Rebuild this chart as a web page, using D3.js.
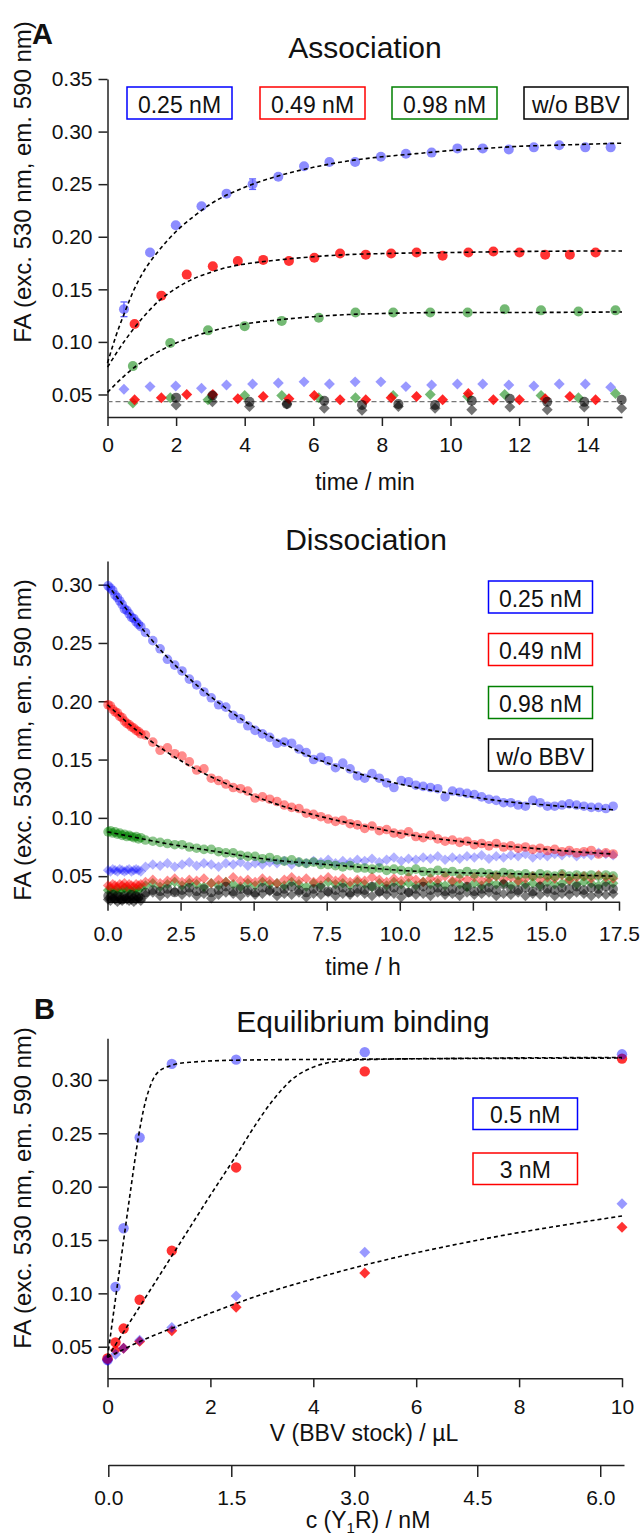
<!DOCTYPE html>
<html>
<head>
<meta charset="utf-8">
<script src="https://cdn.jsdelivr.net/npm/d3@7"></script>
<style>
  body { margin: 0; background: #fff; }
  svg { display: block; }
</style>
</head>
<body>
<svg id="chart" width="644" height="1535"></svg>
<script>
// ---------- A: association (time in min) ----------
const assocBlueT = [0.48, 1.24, 1.99, 2.74, 3.47, 4.23, 4.98, 5.73, 6.47, 7.22, 7.97, 8.70, 9.45, 10.20, 10.94, 11.70, 12.43, 13.17, 13.93, 14.67];
const assocBlue = [0.131, 0.185, 0.211, 0.229, 0.241, 0.250, 0.257, 0.267, 0.271, 0.271, 0.276, 0.279, 0.280, 0.284, 0.284, 0.283, 0.285, 0.287, 0.285, 0.285];
const assocBlueDia = [0.055, 0.0575, 0.058, 0.056, 0.059, 0.060, 0.061, 0.062, 0.060, 0.062, 0.062, 0.0575, 0.059, 0.060, 0.060, 0.059, 0.058, 0.060, 0.060, 0.057];
const assocRedT = [0.79, 1.57, 2.31, 3.07, 3.80, 4.54, 5.29, 6.03, 6.78, 7.53, 8.27, 9.01, 9.77, 10.52, 11.25, 12.01, 12.76, 13.48, 14.23];
const assocRed = [0.117, 0.144, 0.164, 0.172, 0.177, 0.178, 0.177, 0.180, 0.184, 0.183, 0.184, 0.185, 0.182, 0.185, 0.186, 0.185, 0.183, 0.183, 0.185];
const assocRedDia = [0.045, 0.047, 0.050, 0.050, 0.046, 0.048, 0.046, 0.049, 0.045, 0.045, 0.047, 0.048, 0.045, 0.051, 0.045, 0.045, 0.046, 0.048, 0.045];
const assocGreenT = [0.74, 1.83, 2.93, 4.00, 5.08, 6.16, 7.23, 8.33, 9.41, 10.50, 11.58, 12.64, 13.73, 14.81];
const assocGreen = [0.077, 0.099, 0.111, 0.115, 0.120, 0.123, 0.128, 0.128, 0.128, 0.128, 0.131, 0.130, 0.129, 0.130];
const assocGreenDia = [0.042, 0.047, 0.045, 0.049, 0.049, 0.047, 0.047, 0.049, 0.050, 0.048, 0.050, 0.049, 0.047, 0.051];
const assocBlackT = [2.00, 3.06, 4.14, 5.23, 6.32, 7.42, 8.48, 9.55, 10.62, 11.73, 12.82, 13.90, 14.99];
const assocBlack = [0.047, 0.049, 0.043, 0.041, 0.044, 0.040, 0.041, 0.040, 0.044, 0.046, 0.043, 0.043, 0.045];
const assocBlackDia = [0.040, 0.043, 0.0385, 0.041, 0.037, 0.035, 0.0385, 0.037, 0.0355, 0.038, 0.0355, 0.038, 0.037];
const assocErrT = [0.48, 4.23];
const assocErrV = [0.131, 0.250];
const assocErr = [0.007, 0.005];
const assocBaseline = 0.0433;
const assocFitBlue = [[0, 0.080], [0.25, 0.106], [0.5, 0.128], [0.75, 0.148], [1, 0.164], [1.5, 0.187], [2, 0.205], [2.5, 0.219], [3, 0.231], [4, 0.247], [5, 0.258], [6, 0.266], [7, 0.272], [8, 0.276], [9, 0.279], [10, 0.282], [11, 0.284], [12, 0.286], [13, 0.287], [14, 0.288], [15, 0.289]];
const assocFitRed = [[0, 0.076], [0.5, 0.101], [1, 0.122], [1.5, 0.139], [2, 0.151], [2.5, 0.160], [3, 0.166], [3.5, 0.171], [4, 0.174], [5, 0.178], [6, 0.181], [7, 0.183], [8, 0.184], [10, 0.185], [12, 0.186], [15, 0.1865]];
const assocFitGreen = [[0, 0.052], [0.5, 0.068], [1, 0.081], [1.5, 0.091], [2, 0.099], [2.5, 0.105], [3, 0.110], [4, 0.117], [5, 0.121], [6, 0.124], [7, 0.126], [8, 0.127], [10, 0.128], [12, 0.128], [15, 0.1285]];
const assocXTicks = [0, 2, 4, 6, 8, 10, 12, 14];
const assocYTicks = [0.05, 0.10, 0.15, 0.20, 0.25, 0.30, 0.35];

// ---------- dissociation (time in h) ----------
const disT = [
  0.02, 0.10, 0.18, 0.26, 0.34, 0.42, 0.50, 0.58, 0.66, 0.74, 0.82, 0.90, 0.98, 1.06, 1.14,
  1.30, 1.55, 1.80, 2.05, 2.30, 2.55, 2.80, 3.05, 3.30, 3.55,
  3.80, 4.05, 4.30, 4.55, 4.80, 5.05, 5.30, 5.55, 5.80, 6.05,
  6.30, 6.55, 6.80, 7.05, 7.30, 7.55, 7.80, 8.05, 8.30, 8.55,
  8.80, 9.05, 9.30, 9.55, 9.80, 10.05, 10.30, 10.55, 10.80, 11.05,
  11.30, 11.55, 11.80, 12.05, 12.30, 12.55, 12.80, 13.05, 13.30, 13.55,
  13.80, 14.05, 14.30, 14.55, 14.80, 15.05, 15.30, 15.55, 15.80, 16.05,
  16.30, 16.55, 16.80, 17.05, 17.30
];
const disBlue = [
  0.299, 0.297, 0.295, 0.291, 0.289, 0.286, 0.283, 0.279, 0.278, 0.275, 0.272, 0.271, 0.268, 0.266, 0.264,
  0.259, 0.252, 0.245, 0.236, 0.231, 0.226, 0.219, 0.214, 0.208, 0.203,
  0.197, 0.195, 0.188, 0.185, 0.179, 0.175, 0.172, 0.169, 0.164, 0.165,
  0.164, 0.159, 0.156, 0.150, 0.152, 0.149, 0.143, 0.147, 0.142, 0.136,
  0.134, 0.138, 0.134, 0.130, 0.126, 0.132, 0.131, 0.128, 0.127, 0.126,
  0.125, 0.118, 0.123, 0.122, 0.121, 0.120, 0.118, 0.116, 0.115, 0.113,
  0.113, 0.111, 0.110, 0.115, 0.113, 0.110, 0.110, 0.111, 0.112, 0.111,
  0.110, 0.109, 0.109, 0.108, 0.110
];
const disRed = [
  0.197, 0.196, 0.193, 0.191, 0.190, 0.187, 0.186, 0.183, 0.181, 0.180, 0.178, 0.177, 0.175, 0.174, 0.172,
  0.171, 0.165, 0.158, 0.160, 0.155, 0.153, 0.148, 0.141, 0.142, 0.134,
  0.132, 0.129, 0.126, 0.125, 0.123, 0.117, 0.118, 0.116, 0.114, 0.111,
  0.109, 0.108, 0.104, 0.103, 0.101, 0.099, 0.097, 0.098, 0.095, 0.094,
  0.091, 0.093, 0.089, 0.090, 0.087, 0.086, 0.088, 0.084, 0.083, 0.085,
  0.082, 0.080, 0.081, 0.079, 0.080, 0.077, 0.078, 0.076, 0.078, 0.075,
  0.076, 0.074, 0.075, 0.073, 0.074, 0.072, 0.073, 0.071, 0.072, 0.070,
  0.071, 0.072, 0.069, 0.070, 0.069
];
const disGreen = [
  0.088, 0.089, 0.087, 0.088, 0.086, 0.087, 0.085, 0.086, 0.084, 0.085, 0.084, 0.083, 0.084, 0.082, 0.083,
  0.081, 0.080, 0.079, 0.078, 0.077, 0.077, 0.075, 0.074, 0.073, 0.073,
  0.071, 0.070, 0.070, 0.068, 0.067, 0.067, 0.065, 0.066, 0.064, 0.063,
  0.064, 0.062, 0.061, 0.062, 0.060, 0.060, 0.059, 0.058, 0.059, 0.057,
  0.057, 0.056, 0.057, 0.055, 0.056, 0.055, 0.054, 0.056, 0.054, 0.053,
  0.055, 0.053, 0.054, 0.052, 0.054, 0.052, 0.053, 0.052, 0.051, 0.053,
  0.052, 0.051, 0.052, 0.050, 0.052, 0.051, 0.050, 0.052, 0.050, 0.051,
  0.050, 0.051, 0.050, 0.051, 0.050
];
const disBlack = [
  0.033, 0.032, 0.034, 0.031, 0.033, 0.032, 0.030, 0.033, 0.031, 0.032, 0.034, 0.031, 0.033, 0.032, 0.031,
  0.036, 0.038, 0.037, 0.039, 0.036, 0.038, 0.040, 0.037, 0.039, 0.036,
  0.038, 0.041, 0.037, 0.039, 0.038, 0.036, 0.040, 0.038, 0.037, 0.039,
  0.041, 0.038, 0.036, 0.039, 0.040, 0.037, 0.038, 0.040, 0.036, 0.039,
  0.038, 0.041, 0.037, 0.039, 0.040, 0.038, 0.036, 0.039, 0.041, 0.038,
  0.040, 0.037, 0.039, 0.038, 0.041, 0.037, 0.039, 0.040, 0.038, 0.043,
  0.039, 0.038, 0.040, 0.037, 0.041, 0.039, 0.038, 0.040, 0.039, 0.041,
  0.038, 0.040, 0.039, 0.041, 0.039
];
const disBlueDia = [
  0.055, 0.054, 0.056, 0.055, 0.054, 0.056, 0.055, 0.054, 0.055, 0.056, 0.054, 0.055, 0.056, 0.055, 0.054,
  0.058, 0.060, 0.059, 0.061, 0.058, 0.060, 0.062, 0.059, 0.061, 0.060,
  0.058, 0.061, 0.060, 0.062, 0.059, 0.061, 0.060, 0.062, 0.061, 0.063,
  0.060, 0.062, 0.061, 0.063, 0.062, 0.064, 0.061, 0.063, 0.062, 0.064,
  0.063, 0.065, 0.062, 0.064, 0.066, 0.063, 0.065, 0.064, 0.066, 0.065,
  0.067, 0.064, 0.066, 0.065, 0.067, 0.066, 0.068, 0.065, 0.067, 0.066,
  0.068, 0.067, 0.069, 0.066, 0.068, 0.067, 0.069, 0.068, 0.070, 0.067,
  0.069, 0.068, 0.070, 0.069, 0.068
];
const disRedDia = [
  0.042, 0.041, 0.043, 0.042, 0.041, 0.043, 0.042, 0.044, 0.041, 0.043, 0.042, 0.041, 0.043, 0.042, 0.043,
  0.045, 0.047, 0.044, 0.046, 0.048, 0.045, 0.047, 0.046, 0.048, 0.044,
  0.047, 0.045, 0.049, 0.046, 0.047, 0.045, 0.048, 0.046, 0.044, 0.047,
  0.049, 0.046, 0.048, 0.045, 0.047, 0.049, 0.046, 0.048, 0.045, 0.047,
  0.046, 0.049, 0.047, 0.045, 0.048, 0.046, 0.049, 0.047, 0.045, 0.048,
  0.047, 0.050, 0.046, 0.048, 0.047, 0.049, 0.046, 0.048, 0.050, 0.047,
  0.049, 0.046, 0.048, 0.050, 0.047, 0.049, 0.048, 0.051, 0.047, 0.049,
  0.050, 0.048, 0.051, 0.049, 0.048
];
const disGreenDia = [
  0.038, 0.039, 0.037, 0.038, 0.039, 0.037, 0.038, 0.040, 0.038, 0.039, 0.037, 0.038, 0.039, 0.038, 0.040,
  0.042, 0.044, 0.041, 0.043, 0.045, 0.042, 0.044, 0.043, 0.041, 0.044,
  0.042, 0.045, 0.043, 0.041, 0.044, 0.042, 0.045, 0.043, 0.044, 0.042,
  0.045, 0.043, 0.041, 0.044, 0.042, 0.045, 0.043, 0.044, 0.042, 0.045,
  0.043, 0.041, 0.044, 0.042, 0.045, 0.043, 0.044, 0.042, 0.045, 0.043,
  0.044, 0.042, 0.045, 0.043, 0.041, 0.044, 0.042, 0.045, 0.043, 0.044,
  0.042, 0.045, 0.043, 0.044, 0.042, 0.045, 0.043, 0.044, 0.046, 0.043,
  0.045, 0.044, 0.042, 0.045, 0.044
];
const disBlackDia = [
  0.030, 0.029, 0.031, 0.030, 0.028, 0.030, 0.029, 0.031, 0.030, 0.029, 0.030, 0.028, 0.030, 0.031, 0.029,
  0.034, 0.036, 0.033, 0.035, 0.037, 0.034, 0.036, 0.033, 0.035, 0.031,
  0.034, 0.036, 0.035, 0.033, 0.036, 0.034, 0.035, 0.037, 0.033, 0.035,
  0.034, 0.036, 0.032, 0.035, 0.034, 0.036, 0.033, 0.035, 0.034, 0.036,
  0.035, 0.033, 0.036, 0.034, 0.035, 0.032, 0.036, 0.034, 0.035, 0.033,
  0.036, 0.034, 0.035, 0.033, 0.036, 0.034, 0.035, 0.036, 0.033, 0.035,
  0.034, 0.036, 0.033, 0.035, 0.034, 0.036, 0.033, 0.035, 0.034, 0.036,
  0.035, 0.033, 0.035, 0.034, 0.035
];
const disFitBlue = [[0, 0.300], [1, 0.268], [2, 0.239], [3, 0.215], [4, 0.195], [5, 0.178], [6, 0.164], [7, 0.152], [8, 0.143], [9, 0.135], [10, 0.129], [11, 0.124], [12, 0.120], [13, 0.116], [14, 0.113], [15, 0.111], [16, 0.109], [17.3, 0.107]];
const disFitRed = [[0, 0.197], [1, 0.175], [2, 0.157], [3, 0.142], [4, 0.130], [5, 0.119], [6, 0.110], [7, 0.103], [8, 0.097], [9, 0.092], [10, 0.087], [11, 0.083], [12, 0.080], [13, 0.077], [14, 0.075], [15, 0.073], [16, 0.071], [17.3, 0.069]];
const disFitGreen = [[0, 0.088], [1, 0.083], [2, 0.078], [3, 0.074], [4, 0.070], [5, 0.066], [6, 0.063], [7, 0.061], [8, 0.059], [9, 0.057], [10, 0.055], [12, 0.053], [14, 0.052], [17.3, 0.050]];
const disXTicks = [0, 2.5, 5, 7.5, 10, 12.5, 15, 17.5];
const disYTicks = [0.05, 0.10, 0.15, 0.20, 0.25, 0.30];

// ---------- B: equilibrium binding ----------
const eqVol = [0, 0.156, 0.3125, 0.625, 1.25, 2.5, 5, 10];
const eqBlue = [0.0375, 0.106, 0.161, 0.246, 0.315, 0.319, 0.326, 0.324];
const eqRed = [0.039, 0.054, 0.067, 0.094, 0.140, 0.218, 0.308, 0.320];
const eqBlueDia = [0.037, 0.043, 0.0485, 0.056, 0.068, 0.0975, 0.1385, 0.184];
const eqRedDia = [0.038, 0.047, 0.0485, 0.055, 0.065, 0.087, 0.119, 0.162];
const eqFitBlue = [[0, 0.040], [0.15, 0.093], [0.3, 0.145], [0.45, 0.197], [0.56, 0.234], [0.65, 0.260], [0.75, 0.282], [0.83, 0.294], [0.9, 0.302], [1.0, 0.308], [1.15, 0.312], [1.3, 0.3145], [1.6, 0.3165], [2.5, 0.3185], [5, 0.3195], [10, 0.3205]];
const eqFitRed = [[0, 0.040], [0.5, 0.078], [1, 0.116], [1.5, 0.154], [2, 0.192], [2.5, 0.229], [2.85, 0.256], [3.2, 0.280], [3.6, 0.301], [4, 0.312], [4.4, 0.317], [5, 0.319], [7, 0.3203], [10, 0.321]];
const eqFitDia = [[0, 0.040], [0.25, 0.046], [0.5, 0.052], [1, 0.0625], [1.5, 0.072], [2, 0.0815], [2.5, 0.0905], [3, 0.099], [4, 0.1135], [5, 0.1265], [6, 0.138], [7, 0.148], [8, 0.157], [9, 0.165], [10, 0.1725]];
const eqXTicks = [0, 2, 4, 6, 8, 10];
const eqCTicks = [0, 1.5, 3.0, 4.5, 6.0];
const eqYTicks = [0.05, 0.10, 0.15, 0.20, 0.25, 0.30];

const conc4 = ["0.25 nM", "0.49 nM", "0.98 nM", "w/o BBV"];
const conc2 = ["0.5 nM", "3 nM"];

const FONT = "'Liberation Sans', Arial, Helvetica, sans-serif";
const BLUE = "#0000ff", RED = "#ff0000", GREEN = "#008000", BLACK = "#000000";
const yTitle = "FA (exc. 530 nm, em. 590 nm)";

const svg = d3.select("#chart").attr("font-family", FONT);

function styleAxis(g) {
  g.attr("font-size", 21).attr("font-family", FONT);
  g.selectAll("path, line").attr("stroke", "#222").attr("stroke-width", 1.5);
  g.selectAll("text").attr("fill", "#111");
}

function drawAxes(x, y, xTicks, yTicks, xFormat, xPad) {
  svg.append("g")
    .attr("transform", `translate(${x.range()[0]},0)`)
    .call(d3.axisLeft(y).tickValues(yTicks).tickFormat(d3.format(".2f")).tickSize(9).tickPadding(6).tickSizeOuter(0))
    .call(styleAxis);
  svg.append("g")
    .attr("transform", `translate(0,${y.range()[0]})`)
    .call(d3.axisBottom(x).tickValues(xTicks).tickFormat(xFormat).tickSize(9).tickPadding(xPad).tickSizeOuter(0))
    .call(styleAxis);
}

function circles(x, y, ts, vs, color, op, r) {
  svg.append("g")
    .selectAll("circle")
    .data(ts.map((t, i) => [t, vs[i]]))
    .join("circle")
    .attr("cx", d => x(d[0]))
    .attr("cy", d => y(d[1]))
    .attr("r", r)
    .attr("fill", color)
    .attr("fill-opacity", op);
}

function diamonds(x, y, ts, vs, color, op, size) {
  const sym = d3.symbol().type(d3.symbolSquare).size(size);
  svg.append("g")
    .selectAll("path")
    .data(ts.map((t, i) => [t, vs[i]]))
    .join("path")
    .attr("d", sym)
    .attr("transform", d => `translate(${x(d[0])},${y(d[1])}) rotate(45)`)
    .attr("fill", color)
    .attr("fill-opacity", op);
}

function fitLine(x, y, pts) {
  const line = d3.line().x(d => x(d[0])).y(d => y(d[1])).curve(d3.curveMonotoneX);
  svg.append("path")
    .datum(pts)
    .attr("d", line)
    .attr("fill", "none")
    .attr("stroke", "#000")
    .attr("stroke-width", 1.6)
    .attr("stroke-dasharray", "4,3");
}

function legendBox(x0, y0, w, h, label, color) {
  svg.append("rect")
    .attr("x", x0).attr("y", y0).attr("width", w).attr("height", h)
    .attr("fill", "#fff").attr("stroke", color).attr("stroke-width", 1.5);
  svg.append("text")
    .attr("x", x0 + w / 2).attr("y", y0 + h - 6.3)
    .attr("text-anchor", "middle").attr("font-size", 23).attr("fill", "#111")
    .text(label);
}

function label(x, y, txt, size, opts = {}) {
  return svg.append("text")
    .attr("x", x).attr("y", y)
    .attr("text-anchor", opts.anchor || "middle")
    .attr("font-size", size)
    .attr("font-weight", opts.bold ? "bold" : null)
    .attr("fill", "#111")
    .text(txt);
}

function yLabel(cy) {
  svg.append("text")
    .attr("transform", `translate(31,${cy}) rotate(-90)`)
    .attr("text-anchor", "middle").attr("font-size", 24).attr("fill", "#111")
    .text(yTitle);
}

// ================= Panel A: Association =================
const xA = d3.scaleLinear().domain([0, 15]).range([107.5, 622]);
const yA = d3.scaleLinear().domain([0.0286, 0.35]).range([417, 79]);

label(32, 44, "A", 29, { anchor: "start", bold: true });
label(365, 58, "Association", 30);
yLabel(182);
drawAxes(xA, yA, assocXTicks, assocYTicks, d3.format("d"), 11);
label(365, 490, "time / min", 23);

svg.append("line")
  .attr("x1", xA(0)).attr("x2", xA(15))
  .attr("y1", yA(assocBaseline)).attr("y2", yA(assocBaseline))
  .attr("stroke", "#777").attr("stroke-width", 1.2).attr("stroke-dasharray", "5,3");

diamonds(xA, yA, assocBlackT, assocBlackDia, BLACK, 0.55, 60);
diamonds(xA, yA, assocGreenT, assocGreenDia, GREEN, 0.55, 60);
diamonds(xA, yA, assocRedT, assocRedDia, RED, 0.85, 60);
diamonds(xA, yA, assocBlueT, assocBlueDia, BLUE, 0.4, 60);
circles(xA, yA, assocBlackT, assocBlack, BLACK, 0.6, 5);
circles(xA, yA, assocGreenT, assocGreen, GREEN, 0.55, 5);
circles(xA, yA, assocRedT, assocRed, RED, 0.8, 5);
circles(xA, yA, assocBlueT, assocBlue, BLUE, 0.45, 5);

// error bars
assocErrT.forEach((t, i) => {
  const cx = xA(t), top = yA(assocErrV[i] + assocErr[i]), bot = yA(assocErrV[i] - assocErr[i]);
  const g = svg.append("g").attr("stroke", "#6060ff").attr("stroke-width", 1.3);
  g.append("line").attr("x1", cx).attr("x2", cx).attr("y1", top).attr("y2", bot);
  g.append("line").attr("x1", cx - 3.5).attr("x2", cx + 3.5).attr("y1", top).attr("y2", top);
  g.append("line").attr("x1", cx - 3.5).attr("x2", cx + 3.5).attr("y1", bot).attr("y2", bot);
});

fitLine(xA, yA, assocFitBlue);
fitLine(xA, yA, assocFitRed);
fitLine(xA, yA, assocFitGreen);

const colors4 = [BLUE, RED, GREEN, BLACK];
const legA = [[127, 105], [260, 105], [392, 105], [524, 104]];
conc4.forEach((c, i) => legendBox(legA[i][0], 87, legA[i][1], 32, c, colors4[i]));

// ================= Dissociation =================
const xD = d3.scaleLinear().domain([0, 17.5]).range([107.5, 619]);
const yD = d3.scaleLinear().domain([0.0281, 0.3203]).range([901.7, 561]);

label(366, 550, "Dissociation", 30);
yLabel(740);
drawAxes(xD, yD, disXTicks, disYTicks, d3.format(".1f"), 15);
label(363, 975, "time / h", 23);

diamonds(xD, yD, disT, disBlackDia, BLACK, 0.5, 55);
diamonds(xD, yD, disT, disGreenDia, GREEN, 0.5, 55);
diamonds(xD, yD, disT, disRedDia, RED, 0.45, 55);
diamonds(xD, yD, disT, disBlueDia, BLUE, 0.3, 55);
circles(xD, yD, disT, disBlack, BLACK, 0.5, 4.8);
circles(xD, yD, disT, disGreen, GREEN, 0.45, 4.8);
circles(xD, yD, disT, disRed, RED, 0.45, 4.8);
circles(xD, yD, disT, disBlue, BLUE, 0.4, 4.8);

fitLine(xD, yD, disFitBlue);
fitLine(xD, yD, disFitRed);
fitLine(xD, yD, disFitGreen);

const legDY = [581, 633.5, 686.5, 739];
conc4.forEach((c, i) => legendBox(488.5, legDY[i], 104, 32, c, colors4[i]));

// ================= Panel B: Equilibrium binding =================
const xB = d3.scaleLinear().domain([0, 10]).range([107.5, 622]);
const yB = d3.scaleLinear().domain([0.0204, 0.339]).range([1378.3, 1038.3]);
const cB = d3.scaleLinear().domain([0, 6.29]).range([108.3, 624]);

label(34, 1019, "B", 29, { anchor: "start", bold: true });
label(363, 1032, "Equilibrium binding", 30);
yLabel(1188);
drawAxes(xB, yB, eqXTicks, eqYTicks, d3.format("d"), 12);
label(364, 1441, "V (BBV stock) / µL", 23);

svg.append("g")
  .attr("transform", "translate(0,1465)")
  .call(d3.axisBottom(cB).tickValues(eqCTicks).tickFormat(d3.format(".1f")).tickSize(12).tickPadding(13).tickSizeOuter(0))
  .call(styleAxis);

const cLab = svg.append("text")
  .attr("x", 368).attr("y", 1528)
  .attr("text-anchor", "middle").attr("font-size", 23).attr("fill", "#111");
cLab.append("tspan").text("c (Y");
cLab.append("tspan").attr("font-size", 15).attr("dy", 5).text("1");
cLab.append("tspan").attr("dy", -5).text("R) / nM");

diamonds(xB, yB, eqVol, eqRedDia, RED, 0.8, 60);
diamonds(xB, yB, eqVol, eqBlueDia, BLUE, 0.4, 60);
circles(xB, yB, eqVol, eqRed, RED, 0.8, 5.2);
circles(xB, yB, eqVol, eqBlue, BLUE, 0.45, 5.2);

fitLine(xB, yB, eqFitBlue);
fitLine(xB, yB, eqFitRed);
fitLine(xB, yB, eqFitDia);

legendBox(473, 1098, 104.5, 31.5, conc2[0], BLUE);
legendBox(473, 1153, 104.5, 31.5, conc2[1], RED);
</script>
</body>
</html>
